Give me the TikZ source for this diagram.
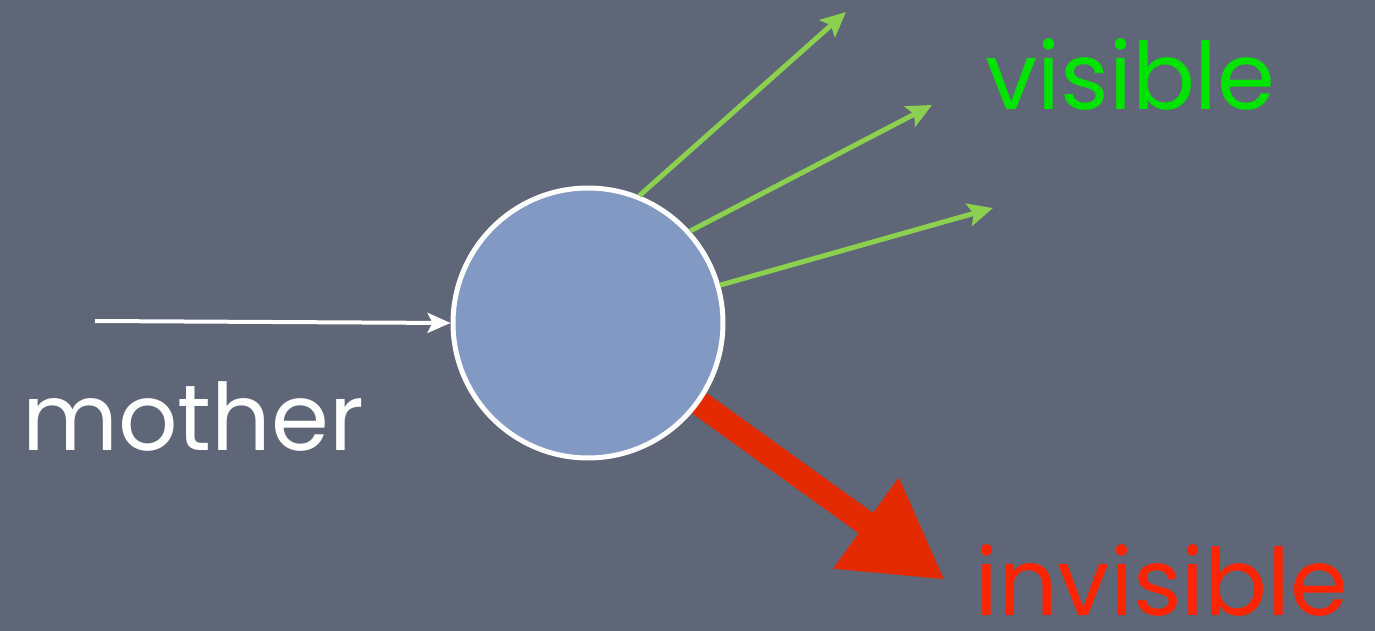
\documentclass[tikz,border=0pt]{standalone}
\usepackage{fontspec}
\setmainfont{Poppins}
\usepackage{xcolor}
\usetikzlibrary{arrows.meta,positioning}

\definecolor{slate}{HTML}{5E6678}
\definecolor{cellblue}{HTML}{8199C3}
\definecolor{raygreen}{HTML}{8CD050}
\definecolor{textgreen}{HTML}{00E400}
\definecolor{heavyred}{HTML}{E42A00}
\definecolor{textred}{HTML}{FF2400}

\begin{document}
\begin{tikzpicture}[
    x=0.02cm,
    y=-0.02cm,
    cell/.style={circle,draw=white,line width=0.1cm,fill=cellblue,
        minimum size=5.4cm,inner sep=0pt},
    ray/.style={line width=0.1cm,draw=raygreen,
        -{Stealth[length=0.5cm,width=0.46cm,inset=0.1cm]}},
    heavy/.style={line width=0.5cm,draw=heavyred,
        -{Triangle[length=1.95cm,width=2.1cm]}},
    incoming/.style={line width=0.08cm,draw=white,
        -{Stealth[length=0.46cm,width=0.4cm,inset=0.1cm]}},
    word/.style={anchor=base west,inner sep=0pt,
        font=\fontsize{53}{64}\selectfont}
]

% ---------------------------------------------------------
% Slide background
% ---------------------------------------------------------

\fill[slate]
    (0,0) rectangle (1375,631);
\useasboundingbox
    (0,0) rectangle (1375,631);

% ---------------------------------------------------------
% Heavy (invisible) decay, drawn behind the particle
% ---------------------------------------------------------

\coordinate (core) at (588,323);
\coordinate (redtip) at (945,580);

\draw[heavy]
    (core) -- (redtip);

% ---------------------------------------------------------
% Decaying particle
% ---------------------------------------------------------

\node[cell] (cell) at (core) {};

% ---------------------------------------------------------
% Incoming mother
% ---------------------------------------------------------

\coordinate (source) at (95,321);

\draw[incoming]
    (source) -- (cell.west);

\node[word,text=white] (mother) at (22,450)
    {mother};

% ---------------------------------------------------------
% Visible decay products
% ---------------------------------------------------------

\coordinate (tipA) at (846,12);
\coordinate (tipB) at (932,105);
\coordinate (tipC) at (993,208);

\draw[ray]
    (cell.68) -- (tipA);

\draw[ray]
    (cell.42) -- (tipB);

\draw[ray]
    (cell.16) -- (tipC);

\node[word,text=textgreen] (visible) at (985,110)
    {visible};

% ---------------------------------------------------------
% Invisible label
% ---------------------------------------------------------

\node[word,text=textred] (invisible) at (975,615)
    {invisible};

\end{tikzpicture}
\end{document}
